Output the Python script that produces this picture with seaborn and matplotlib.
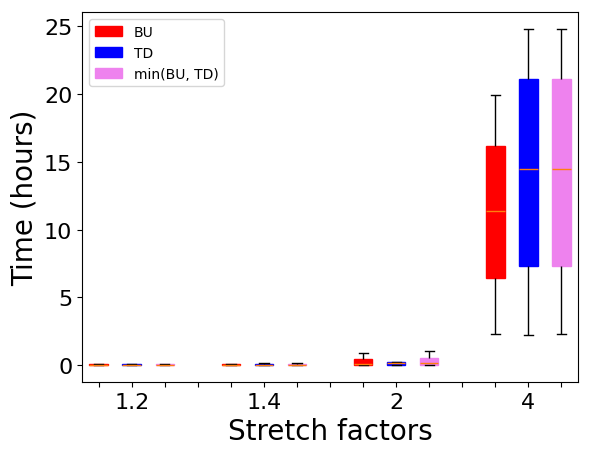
import numpy as np
import pandas as pd
import matplotlib
matplotlib.use("Agg")
import matplotlib.pyplot as plt
import seaborn as sns

# === DATOS (min, q1, mediana, q3, max) ===
factors = ["1.2", "1.4", "2", "4"]
methods = ["BU", "TD", "min(BU, TD)"]
colors = ["red", "blue", "violet"]

bu = [[0.0, 0.0, 0.05, 0.1, 0.1],
      [0.0, 0.0, 0.05, 0.1, 0.1],
      [0.0, 0.02, 0.12, 0.45, 0.89],
      [2.34, 6.4, 11.4, 16.2, 19.9]]
td = [[0.0, 0.0, 0.05, 0.1, 0.1],
      [0.0, 0.0, 0.05, 0.1, 0.18],
      [0.0, 0.0, 0.13, 0.25, 0.27],
      [2.26, 7.33, 14.5, 21.1, 24.8]]
mn = [[0.0, 0.0, 0.05, 0.1, 0.1],
      [0.0, 0.0, 0.05, 0.1, 0.18],
      [0.05, 0.05, 0.13, 0.52, 1.03],
      [2.34, 7.33, 14.5, 21.1, 24.8]]

rows = []
for name, series in zip(methods, [bu, td, mn]):
    for f, vals in zip(factors, series):
        for v in vals:
            rows.append({"factor": f, "method": name, "time": v})
df = pd.DataFrame(rows)

# === GRÁFICA ===
fig, ax = plt.subplots(figsize=(5.91, 4.56), dpi=100)
sns.boxplot(data=df, x="factor", y="time", hue="method", order=factors,
            hue_order=methods, palette=dict(zip(methods, colors)),
            saturation=1, width=0.75, gap=0.44, whis=np.inf, ax=ax,
            linewidth=1,
            whiskerprops=dict(color="black"), capprops=dict(color="black"),
            medianprops=dict(color="#ff7f0e"))

for p in ax.patches:
    p.set_edgecolor(p.get_facecolor())

ticks = np.arange(-0.25, 3.3, 0.25)
labels = [factors[int(round(t))] if abs(t - round(t)) < 1e-6 else "" for t in ticks]
ax.set_xticks(ticks)
ax.set_xticklabels(labels, fontsize=16)
ax.tick_params(axis="y", labelsize=16)
ax.set_xlim(-0.375, 3.375)
ax.set_yticks([0, 5, 10, 15, 20, 25])

ax.set_xlabel("Stretch factors", fontsize=20)
ax.set_ylabel("Time (hours)", fontsize=20)
ax.legend(loc="upper left", fontsize=10)

plt.subplots_adjust(left=0.139, right=0.978, top=0.971, bottom=0.160)
plt.savefig("out.png", dpi=100)
